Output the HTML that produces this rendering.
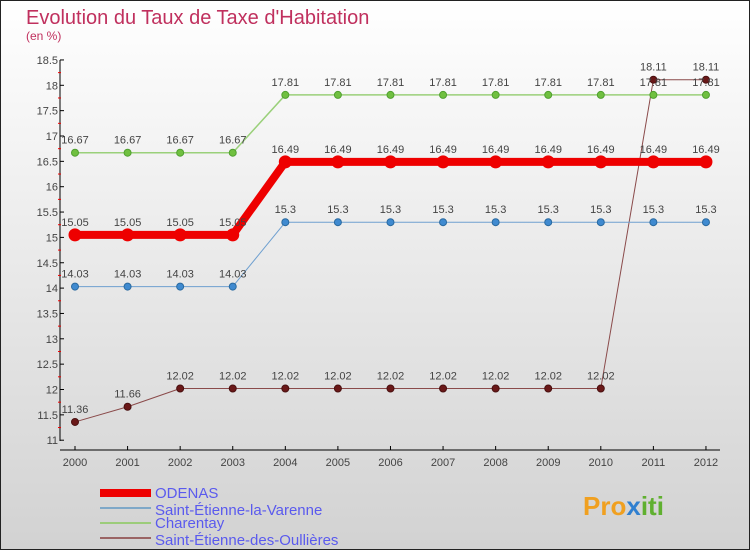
<!DOCTYPE html>
<html><head><meta charset="utf-8"><style>
body{margin:0}
svg text{font-family:"Liberation Sans",sans-serif}
</style></head><body>
<svg id="c" width="750" height="550" xmlns="http://www.w3.org/2000/svg">
<defs><linearGradient id="bg" x1="0" y1="0" x2="0" y2="1"><stop offset="0" stop-color="#ffffff"/><stop offset="1" stop-color="#d2d2d2"/></linearGradient></defs>
<rect x="0.5" y="0.5" width="749" height="549" fill="url(#bg)" stroke="#222"/>
<text x="26" y="24" font-size="20" fill="#c0305e">Evolution du Taux de Taxe d'Habitation</text>
<text x="26" y="40" font-size="12" fill="#c0305e">(en %)</text>
<g id="axes"></g><g id="series"></g>
<g>
<rect x="100" y="489" width="51" height="8" fill="#e00"/>
<text x="155" y="498" font-size="15" fill="#5a5aee">ODENAS</text>
<line x1="100" y1="508" x2="151" y2="508" stroke="#7fa8c8" stroke-width="2"/>
<text x="155" y="515" font-size="15" fill="#5a5aee">Saint-Étienne-la-Varenne</text>
<line x1="100" y1="523" x2="151" y2="523" stroke="#9ccc7a" stroke-width="2"/>
<text x="155" y="528" font-size="15" fill="#5a5aee">Charentay</text>
<line x1="100" y1="538" x2="151" y2="538" stroke="#9a6464" stroke-width="2"/>
<text x="155" y="545" font-size="15" fill="#5a5aee">Saint-Étienne-des-Oullières</text>
</g>
<g><text x="583" y="515" font-size="26" font-weight="bold" fill="#f0a020">Pro<tspan fill="#3080d0">x</tspan><tspan fill="#60b030">iti</tspan></text></g>
</svg>
<script>
const years=[2000,2001,2002,2003,2004,2005,2006,2007,2008,2009,2010,2011,2012];
const yTicks=[11,11.5,12,12.5,13,13.5,14,14.5,15,15.5,16,16.5,17,17.5,18,18.5];
const odenas=[15.05,15.05,15.05,15.05,16.49,16.49,16.49,16.49,16.49,16.49,16.49,16.49,16.49];
const varenne=[14.03,14.03,14.03,14.03,15.3,15.3,15.3,15.3,15.3,15.3,15.3,15.3,15.3];
const charentay=[16.67,16.67,16.67,16.67,17.81,17.81,17.81,17.81,17.81,17.81,17.81,17.81,17.81];
const oullieres=[11.36,11.66,12.02,12.02,12.02,12.02,12.02,12.02,12.02,12.02,12.02,18.11,18.11];
const NS="http://www.w3.org/2000/svg";
const xs=i=>75+i*52.58;
const ys=v=>440.2-(v-11)*50.7;
function mk(p,t,a){const e=document.createElementNS(NS,t);for(const k in a)e.setAttribute(k,a[k]);p.appendChild(e);return e;}
const ax=document.getElementById('axes');
let l=mk(ax,'line',{x1:60,y1:60,x2:60,y2:441,stroke:'#000'});


l=mk(ax,'line',{x1:60,y1:450,x2:720,y2:450,stroke:'#000'});


yTicks.forEach((v,i)=>{const y=ys(v);
 mk(ax,'line',{x1:60,y1:y,x2:64,y2:y,stroke:'#000'});
 if(i<yTicks.length-1) mk(ax,'line',{x1:58,y1:ys(v+0.25),x2:61,y2:ys(v+0.25),stroke:'#e00'});
 const t=mk(ax,'text',{x:58,y:y+4,'font-size':11,'text-anchor':'end',fill:'#444'});t.textContent=v;
 
 });
years.forEach((yr,i)=>{const x=xs(i);
 mk(ax,'line',{x1:x,y1:446,x2:x,y2:450,stroke:'#000'});
 const t=mk(ax,'text',{x:x,y:466,'font-size':11,'text-anchor':'middle',fill:'#444'});t.textContent=yr;
 
 });
const sg=document.getElementById('series');
function series(name,vals,color,w,r,dot,stroke){
 const g=mk(sg,'g',{});
 
 
 mk(g,'polyline',{points:vals.map((v,i)=>xs(i)+','+ys(v)).join(' '),fill:'none',stroke:color,'stroke-width':w,'stroke-linejoin':'round'});
 vals.forEach((v,i)=>{const c=mk(g,'circle',{cx:xs(i),cy:ys(v),r:r,fill:dot,stroke:stroke});
  
  
  const t=mk(g,'text',{x:xs(i),y:ys(v)-9,'font-size':11,'text-anchor':'middle',fill:'#444'});t.textContent=String(v);
  
  });
}
series('oullieres',oullieres,'#8a4a4a',1,3.5,'#6a1818','#4a1010');
series('varenne',varenne,'#6fa0d0',1,3.5,'#3f8ad0','#2a6aa0');
series('charentay',charentay,'#9ad07a',1.5,3.5,'#70c040','#50a030');
series('odenas',odenas,'#ee0000',8,6,'#ee0000','#ee0000');
</script>
</body></html>
